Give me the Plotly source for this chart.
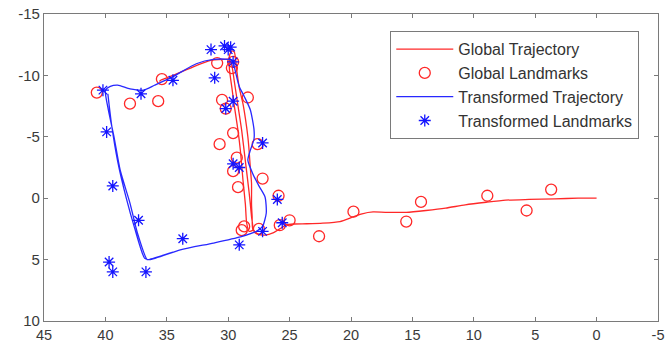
import plotly.graph_objects as go

# Global trajectory (red line)
gt_x = [0.0, 1.5, 3.4, 5.5, 7.4, 9.0, 10.7, 12.3, 13.9, 15.5, 17.2, 18.2, 19.1, 19.9, 20.9, 22.3,
        23.6, 24.7, 25.3, 25.8, 26.3, 27.0, 27.6, 28.0, 28.05, 28.1, 28.1, 28.2, 28.3, 28.4, 28.6,
        28.8, 29.1, 29.3, 29.4, 29.5, 29.7, 29.9, 29.9, 29.7, 29.5, 29.2, 29.0, 28.8, 28.6, 28.5,
        28.3, 28.0, 28.1, 28.3, 28.6, 28.9, 29.2, 29.5, 29.7, 29.9, 30.4, 31.5, 32.6, 34.5, 35.0,
        35.5, 35.6]
gt_y = [0.0, 0.0, 0.05, 0.1, 0.16, 0.33, 0.54, 0.81, 1.0, 1.15, 1.15, 1.12, 1.27, 1.55, 1.9, 2.03,
        2.08, 2.1, 2.2, 2.5, 2.8, 3.0, 2.9, 2.5, 1.5, 0.5, -1.2, -2.5, -3.9, -5.0, -6.5,
        -7.7, -9.0, -10.4, -11.3, -11.9, -12.0, -11.6, -10.5, -9.0, -7.5, -5.5, -3.8, -1.5, 0.5, 2.0,
        2.7, 2.6, 1.5, -0.5, -3.0, -5.5, -7.5, -9.5, -10.8, -11.3, -11.3, -11.2, -10.8, -10.0, -9.8,
        -9.6, -9.5]

# Global landmarks (red circles)
gl_x = [40.7, 38.0, 35.7, 35.4, 30.9, 29.6, 29.7, 30.5, 30.2, 28.4, 29.6, 30.7, 27.6, 29.3, 29.6,
        27.2, 29.2, 25.9, 28.7, 28.9, 27.5, 25.8, 25.0, 22.6, 19.8, 15.5, 14.3, 8.9, 5.7, 3.7]
gl_y = [-8.6, -7.7, -7.9, -9.7, -11.0, -11.1, -10.6, -8.0, -7.3, -8.2, -5.3, -4.4, -4.4, -3.3, -2.2,
        -1.6, -0.9, -0.2, 2.3, 2.6, 2.5, 2.2, 1.8, 3.1, 1.1, 1.9, 0.3, -0.2, 1.0, -0.7]

# Transformed trajectory (blue line)
tt_x = [39.8, 39.5, 39.0, 38.3, 37.6, 36.8, 36.4, 33.9, 31.2, 29.0, 27.7, 27.2, 26.9, 27.0, 27.5,
        28.0, 28.4, 28.2, 27.9, 27.9, 28.2, 28.7, 29.1, 29.5, 29.6, 30.0, 31.2, 32.6, 34.5, 36.0,
        36.9, 38.0, 39.0, 39.6, 40.0, 39.8, 39.3, 38.8, 38.0, 37.4, 36.6, 36.3, 34.5]
tt_y = [-8.5, -6.0, -3.0, 0.0, 2.5, 4.9, 5.0, 4.2, 3.65, 3.15, 2.7, 2.3, 1.2, -0.1, -1.0,
        -2.0, -3.1, -3.9, -4.8, -5.6, -7.2, -8.3, -9.1, -10.7, -11.2, -11.3, -11.3, -10.95, -9.9, -9.2,
        -8.8, -8.9, -9.2, -9.1, -8.8, -7.4, -5.0, -2.3, 0.4, 2.8, 5.0, 4.95, 4.4]

# Transformed landmarks (blue stars)
tl_x = [40.2, 37.1, 34.5, 31.4, 30.3, 30.0, 29.8, 31.1, 29.6, 29.6, 30.2, 27.2, 29.6, 29.1, 39.9,
        39.4, 37.3, 33.7, 29.1, 27.2, 26.0, 25.6, 39.7, 39.4, 36.7]
tl_y = [-8.8, -8.5, -9.6, -12.1, -12.4, -12.1, -12.3, -9.8, -11.1, -7.9, -7.3, -4.5, -2.8, -2.5, -5.4,
        -1.0, 1.8, 3.3, 3.8, 2.7, 0.1, 2.0, 5.2, 6.0, 6.0]

x_ticks = [45, 40, 35, 30, 25, 20, 15, 10, 5, 0, -5]
y_ticks = [-15, -10, -5, 0, 5, 10]

fig = go.Figure()
fig.add_trace(go.Scatter(x=gt_x, y=gt_y, mode="lines", name="Global Trajectory",
                         line=dict(color="rgb(255,40,40)", width=1.3, shape="spline", smoothing=0.6)))
fig.add_trace(go.Scatter(x=gl_x, y=gl_y, mode="markers", name="Global Landmarks",
                         marker=dict(symbol="circle-open", size=11, color="rgb(255,40,40)",
                                     line=dict(width=1.3))))
fig.add_trace(go.Scatter(x=tt_x, y=tt_y, mode="lines", name="Transformed Trajectory",
                         line=dict(color="rgb(40,40,255)", width=1.3, shape="spline", smoothing=0.6)))
fig.add_trace(go.Scatter(x=tl_x, y=tl_y, mode="markers", name="Transformed Landmarks",
                         marker=dict(symbol="asterisk-open", size=10, color="rgb(20,20,255)",
                                     line=dict(width=1.3, color="rgb(20,20,255)"))))

axis_common = dict(showgrid=False, zeroline=False, showline=True, linecolor="#7a7a7a", linewidth=1.3,
                   mirror="allticks", ticks="inside", ticklen=4, tickcolor="#7a7a7a", tickwidth=1,
                   automargin=False, ticklabeloverflow="allow",
                   tickfont=dict(family="Liberation Sans, Arial, sans-serif", size=15, color="#3a3a3a"))

fig.update_xaxes(range=[45, -5], tickvals=x_ticks, ticktext=[str(v) for v in x_ticks], **axis_common)
fig.update_xaxes(tickfont_size=14.5)
fig.update_yaxes(range=[10, -15], tickvals=y_ticks, ticktext=[str(v) for v in y_ticks], **axis_common)

fig.update_layout(
    template="simple_white",
    width=667, height=354,
    margin=dict(l=44, r=9, t=14, b=33),
    paper_bgcolor="white", plot_bgcolor="white",
    showlegend=True,
    legend=dict(x=0.969, y=0.945, xanchor="right", yanchor="top",
                bgcolor="white", bordercolor="#7a7a7a", borderwidth=1.3,
                font=dict(family="Liberation Sans, Arial, sans-serif", size=16, color="#333333"),
                itemwidth=57),
)

fig.write_html("out.html", config={"displayModeBar": False},
               post_script="document.body.style.margin='0px';")
